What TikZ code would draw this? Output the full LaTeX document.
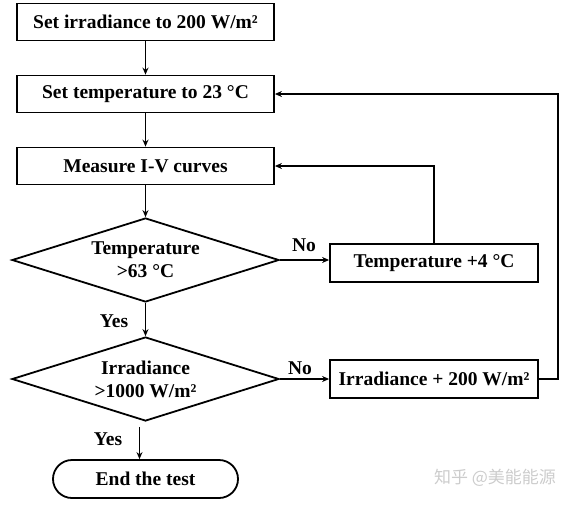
\documentclass[tikz,border=0pt]{standalone}
\usepackage{fontspec}
\setmainfont{Liberation Serif}
\newfontfamily\cjk{Noto Sans CJK SC}
\usetikzlibrary{shapes.geometric,arrows.meta}
\begin{document}
\begin{tikzpicture}[x=1pt,y=-1pt,
  txt/.style={font=\bfseries\fontsize{19.5}{23}\selectfont,align=center},
  box/.style={draw,line width=1.8pt,minimum width=257pt,minimum height=37pt,inner sep=0pt,txt},
  sbox/.style={box,minimum width=208pt,minimum height=38pt},
  dec/.style={draw,diamond,line width=1.8pt,shape aspect=3.2,minimum width=267pt,minimum height=84pt,inner sep=0pt,txt},
  term/.style={draw,line width=1.8pt,rounded corners=19pt,minimum width=185pt,minimum height=38pt,inner sep=0pt,txt},
  arr/.style={line width=1.8pt,-{Stealth[length=7pt,width=6pt]}},
  lbl/.style={txt}
]
\useasboundingbox (0,0) rectangle (570,504);
\node[box] (b1) at (145.5,22) {Set irradiance to 200 W/m²};
\node[box] (b2) at (145.5,94) {Set temperature to 23 °C};
\node[box] (b3) at (145.5,166) {Measure I-V curves};
\node[dec] (d1) at (145.5,260) {Temperature\\>63 °C};
\node[dec] (d2) at (145.5,379) {Irradiance\\>1000 W/m²};
\node[sbox] (t4) at (434,263) {Temperature +4 °C};
\node[sbox] (ir) at (434,379) {Irradiance + 200 W/m²};
\node[term] (end) at (145.5,479) {End the test};
\node[lbl] (y1) at (114,321) {Yes};
\node[lbl] (y2) at (108,439) {Yes};
\node[lbl] (n1) at (304,245) {No};
\node[lbl] (n2) at (300,368) {No};
\coordinate (rx) at (558,0);
\draw[arr] (b1.south) -- (b2.north);
\draw[arr] (b2.south) -- (b3.north);
\draw[arr] (b3.south) -- (d1.north);
\draw[arr] (d1.south) -- (d2.north);
\draw[arr] (d1.east) -- (d1.east -| t4.west);
\draw[arr] (d2.east) -- (d2.east -| ir.west);
\draw[arr] (t4.north) |- (b3.east);
\draw[arr] (ir.east) -- (ir.east -| rx) |- (b2.east);
\draw[arr] ([xshift=-6pt,yshift=-5pt]d2.south) -- ([xshift=-6pt]end.north);
\node[text=gray!40,font=\cjk\fontsize{17}{17}\selectfont] (wm) at (495,478) {知乎 @美能能源};
\end{tikzpicture}
\end{document}
